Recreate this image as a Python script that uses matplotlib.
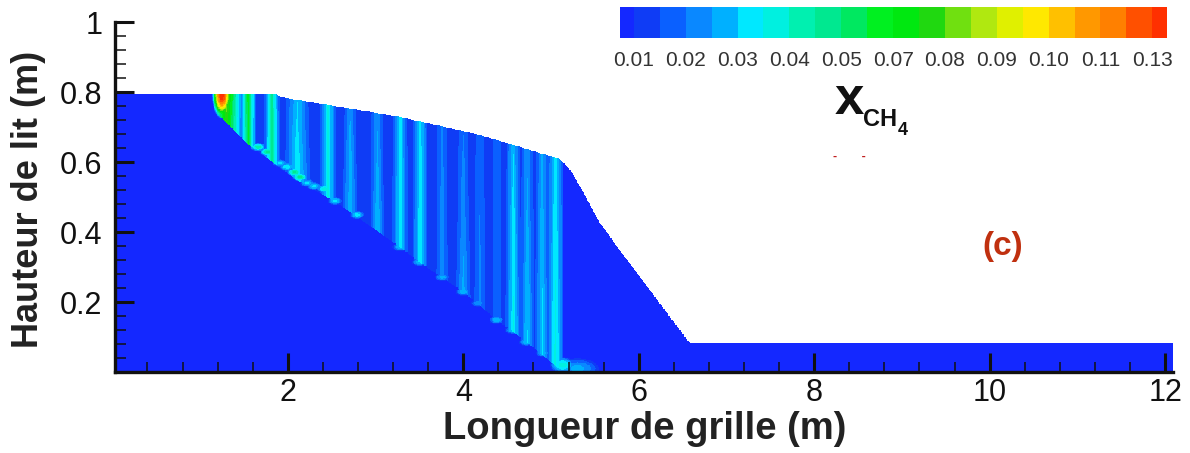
import numpy as np
import matplotlib
matplotlib.use("Agg")
import matplotlib.pyplot as plt
from matplotlib.colors import ListedColormap, BoundaryNorm

plt.rcParams['font.family'] = ['Liberation Sans', 'DejaVu Sans']

# bed outline (m)
top_x = [0.0, 1.86, 1.91, 3.28, 4.19, 5.10, 5.24, 5.56, 5.78, 6.58, 12.09]
top_y = [0.795, 0.795, 0.786, 0.729, 0.677, 0.609, 0.571, 0.425, 0.349, 0.083, 0.083]

# devolatilisation front, stripes live above this line
front_x = [1.15, 1.19, 1.53, 2.10, 2.56, 2.79, 3.28, 3.50, 4.00, 4.38, 4.72, 5.07, 5.14]
front_y = [0.795, 0.74, 0.654, 0.549, 0.483, 0.443, 0.357, 0.314, 0.229, 0.149, 0.086, 0.014, 0.014]

# vertical stripes: position, half width, value at bed top, value at front
stripe_x = [1.30, 1.55, 1.82, 2.11, 2.46, 2.71, 3.02, 3.28, 3.51, 3.76, 4.00, 4.19, 4.38, 4.57, 4.73, 4.90, 5.05]
stripe_w = [0.24, 0.11, 0.12, 0.24, 0.14, 0.15, 0.15, 0.14, 0.14, 0.16, 0.17, 0.18, 0.17, 0.14, 0.14, 0.15, 0.15]
stripe_top = [0.090, 0.072, 0.055, 0.034, 0.042, 0.028, 0.028, 0.038, 0.038, 0.024, 0.022, 0.022, 0.022, 0.034, 0.028, 0.030, 0.038]
stripe_low = [0.080, 0.070, 0.058, 0.040, 0.042, 0.034, 0.034, 0.040, 0.040, 0.026, 0.030, 0.024, 0.022, 0.042, 0.036, 0.036, 0.044]

# bright spots at the foot of the stripes
spot_x = [1.25, 1.66, 1.77, 1.91, 1.99, 2.08, 2.14, 2.22, 2.30, 2.42, 2.54, 2.79, 3.28, 3.50, 3.76, 4.00, 4.17, 4.38, 4.56, 4.72, 4.91, 5.13, 5.30]
spot_y = [0.790, 0.643, 0.629, 0.597, 0.586, 0.571, 0.557, 0.540, 0.531, 0.523, 0.489, 0.449, 0.357, 0.314, 0.271, 0.229, 0.197, 0.149, 0.120, 0.086, 0.054, 0.020, 0.010]
spot_v = [0.135, 0.050, 0.055, 0.036, 0.040, 0.055, 0.055, 0.036, 0.036, 0.045, 0.036, 0.038, 0.034, 0.034, 0.032, 0.034, 0.028, 0.034, 0.034, 0.034, 0.032, 0.044, 0.030]

# colour bar
band_colors = ['#1428ff', '#0f3cf5', '#0a60ff', '#0a88ff', '#00b0ff', '#00e8ff',
               '#00f0e0', '#00f0b0', '#00e890', '#00e860', '#00f020', '#00e810',
               '#20d810', '#70e010', '#b0e810', '#e0f000', '#ffe800', '#ffc000',
               '#ff9800', '#ff8000', '#ff5000', '#ff3000']
levels = [0.004 + 0.006 * i for i in range(23)]
cbar_labels = ['0.01', '0.02', '0.03', '0.04', '0.05', '0.07', '0.08', '0.09', '0.10', '0.11', '0.13']

fig = plt.figure(figsize=(11.9, 4.53), dpi=100)
ax = fig.add_axes([115 / 1190, 1 - 372 / 453, (1173 - 115) / 1190, (372 - 22) / 453])

cmap = ListedColormap(band_colors)
norm = BoundaryNorm(levels, cmap.N, clip=True)

gx = np.linspace(0, 12.09, 1400)
gy = np.linspace(0, 1, 500)
X, Y = np.meshgrid(gx, gy)
bed = np.interp(X, top_x, top_y)
foot = np.interp(X, front_x, front_y, left=2, right=2)

field = np.zeros_like(X)
wedge = Y > foot
field[wedge] = 0.012

for sx, w, vt, vl in zip(stripe_x, stripe_w, stripe_top, stripe_low):
    frac = np.clip((Y - foot) / np.maximum(bed - foot, 0.01), 0, 1)
    peak = vl + (vt - vl) * frac
    val = peak * np.clip(1 - np.abs(X - sx) / w, 0, 1)
    field = np.where(wedge, np.maximum(field, val), field)

for sx, sy, sv in zip(spot_x, spot_y, spot_v):
    if sv > 0.1:
        rx, ry = 0.12, 0.07
    elif sx > 5.2:
        rx, ry = 0.30, 0.035
    elif sx > 5.1:
        rx, ry = 0.16, 0.026
    else:
        rx, ry = 0.10, 0.014
    d = ((X - sx) / rx) ** 2 + ((Y - sy) / ry) ** 2
    field = np.maximum(field, sv * np.clip(1 - d, 0, 1))

field = np.ma.masked_where(Y > bed, field)
ax.pcolormesh(gx, gy, field, cmap=cmap, norm=norm, shading='auto', rasterized=True)

ax.set_xlim(0.03, 12.09)
ax.set_ylim(0, 1)
ax.set_xticks([2, 4, 6, 8, 10, 12])
ax.set_xticks(np.arange(0.4, 12.05, 0.4), minor=True)
ax.set_yticks([0.2, 0.4, 0.6, 0.8, 1])
ax.set_yticklabels(['0.2', '0.4', '0.6', '0.8', '1'])
ax.set_yticks(np.arange(0.04, 1.0, 0.04), minor=True)
ax.tick_params(axis='both', which='major', direction='in', length=13.5, width=2.2, labelsize=22, colors='#111111')
ax.tick_params(axis='y', which='major', pad=9)
ax.tick_params(axis='x', which='major', pad=4)
ax.tick_params(axis='x', which='minor', direction='in', length=7, width=1.1, color='#111111')
ax.tick_params(axis='y', which='minor', direction='in', length=8, width=1.1, color='#111111')
for s in ['top', 'right']:
    ax.spines[s].set_visible(False)
for s in ['left', 'bottom']:
    ax.spines[s].set_linewidth(2.4)
    ax.spines[s].set_color('#111111')

fig.text(645 / 1190, 1 - 429 / 453, 'Longueur de grille (m)', fontsize=27.5, fontweight='bold',
         ha='center', va='center', color='#222222')
fig.text(29 / 1190, 1 - 199 / 453, 'Hauteur de lit (m)', fontsize=26, fontweight='bold',
         rotation=90, ha='center', va='center', color='#222222')

# colour bar drawn as its own small axes
cax = fig.add_axes([620 / 1190, 1 - 37.5 / 453, (1167 - 620) / 1190, 31 / 453])
cax.pcolormesh(levels, [0, 1], np.array([[(a + b) / 2 for a, b in zip(levels[:-1], levels[1:])]]),
               cmap=cmap, norm=norm)
cax.set_xlim(levels[0] + 0.0028, levels[-1] - 0.0026)
cax.set_yticks([])
cax.set_xticks(levels[1::2][:11])
cax.set_xticklabels(cbar_labels, fontsize=15, color='#333333')
cax.tick_params(axis='x', length=0, pad=10)
for s in cax.spines.values():
    s.set_visible(False)

fig.text(849 / 1190, 1 - 100 / 453, 'x', fontsize=38, fontweight='bold', ha='center', va='center', color='#111111')
fig.text(863 / 1190, 1 - 119 / 453, 'CH', fontsize=17, fontweight='bold', ha='left', va='center', color='#111111')
fig.text(898 / 1190, 1 - 131 / 453, '4', fontsize=13, fontweight='bold', ha='left', va='center', color='#111111')
fig.text(849 / 1190, 1 - 157 / 453, '-       -', fontsize=9, fontweight='bold', ha='center', va='center', color='#c02020')
fig.text(1003 / 1190, 1 - 246 / 453, '(c)', fontsize=24, fontweight='bold', ha='center', va='center', color='#c0300f')

fig.savefig('out.png', dpi=100)
